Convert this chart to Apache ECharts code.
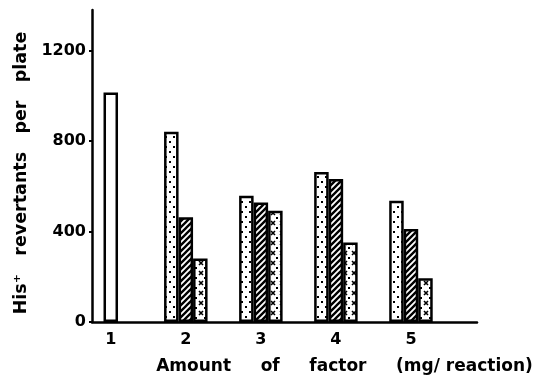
<!DOCTYPE html>
<html lang="en">
<head>
  <meta charset="UTF-8">
  <script src="https://cdn.jsdelivr.net/npm/echarts@6.0.0/dist/echarts.min.js"></script>
  <style>
    body { margin: 0; background: #fff; }
  </style>
</head>
<body>
  <div id="revertantsChart" style="width: 554px;height:380px;"></div>

  <script type="text/javascript">
    // amount of factor (mg / reaction)
    var amountTicks = [1, 2, 3, 4, 5];
    var controlAmount = [1];
    var controlValues = [1015];
    var treatedAmounts = [2, 3, 4, 5];
    var dottedValues = [841, 558, 664, 536];
    var hatchedValues = [463, 529, 632, 411];
    var crossedValues = [281, 492, 352, 193];
    var yTicks = [0, 400, 800, 1200];

    var font = '"DejaVu Sans", sans-serif';

    function makePattern(w, h, draw) {
      const c = document.createElement('canvas');
      c.width = w;
      c.height = h;
      const ctx = c.getContext('2d');
      ctx.fillStyle = '#fff';
      ctx.fillRect(0, 0, w, h);
      ctx.fillStyle = '#000';
      ctx.strokeStyle = '#000';
      draw(ctx);
      return { image: c, repeat: 'repeat' };
    }

    const dotPattern = makePattern(8, 10, ctx => {
      ctx.fillRect(1, 1, 2, 2);
      ctx.fillRect(5, 6, 2, 2);
    });

    const hatchPattern = makePattern(6, 6, ctx => {
      ctx.lineWidth = 2.4;
      ctx.beginPath();
      ctx.moveTo(-1, 7); ctx.lineTo(7, -1);
      ctx.moveTo(-4, 4); ctx.lineTo(4, -4);
      ctx.moveTo(2, 10); ctx.lineTo(10, 2);
      ctx.stroke();
    });

    const crossPattern = makePattern(9, 10, ctx => {
      ctx.lineWidth = 1.6;
      ctx.beginPath();
      ctx.moveTo(1, 1); ctx.lineTo(5, 5);
      ctx.moveTo(5, 1); ctx.lineTo(1, 5);
      ctx.stroke();
      ctx.fillRect(6, 7, 2, 2);
    });

    function pairs(xs, ys) {
      return xs.map((x, i) => [x, ys[i]]);
    }

    function barStyle(fill) {
      return { color: fill, borderColor: '#000', borderWidth: 2.5 };
    }

    const chart = echarts.init(document.getElementById('revertantsChart'));

    let option = {
      backgroundColor: '#fff',
      animation: false,
      grid: { left: 92, right: 77, top: 10, bottom: 58 },
      xAxis: {
        type: 'value',
        min: 0.75,
        max: 5.88,
        name: 'Amount     of     factor     (mg/ reaction)',
        nameLocation: 'middle',
        nameGap: 36,
        nameTextStyle: {
          color: '#000', fontFamily: font, fontWeight: 'bold', fontSize: 17,
          padding: [0, 0, 0, 120]
        },
        axisLine: { lineStyle: { color: '#000', width: 2.5 } },
        axisTick: { show: false },
        splitLine: { show: false },
        axisLabel: {
          customValues: amountTicks,
          color: '#000', fontFamily: font, fontWeight: 'bold', fontSize: 16,
          margin: 10
        }
      },
      yAxis: {
        type: 'value',
        min: 0,
        max: 1380,
        name: 'His\u207A   revertants   per   plate',
        nameLocation: 'middle',
        nameGap: 59,
        nameTextStyle: {
          color: '#000', fontFamily: font, fontWeight: 'bold', fontSize: 17.5,
          padding: [0, 14, 0, 0]
        },
        axisLine: { show: true, lineStyle: { color: '#000', width: 2.5 } },
        axisTick: { show: true, customValues: yTicks, length: 3, lineStyle: { color: '#000', width: 2 } },
        splitLine: { show: false },
        axisLabel: {
          customValues: yTicks,
          formatter: v => String(v),
          color: '#000', fontFamily: font, fontWeight: 'bold', fontSize: 16,
          margin: 6
        }
      },
      series: [
        {
          name: 'dotted',
          type: 'bar',
          barWidth: 14.5,
          barGap: 0,
          data: pairs(treatedAmounts, dottedValues),
          itemStyle: barStyle(dotPattern)
        },
        {
          name: 'hatched',
          type: 'bar',
          stack: 'middle',
          barWidth: 14.5,
          data: pairs(treatedAmounts, hatchedValues),
          itemStyle: barStyle(hatchPattern)
        },
        {
          name: 'control',
          type: 'bar',
          stack: 'middle',
          barWidth: 14.5,
          data: pairs(controlAmount, controlValues),
          itemStyle: barStyle('#fff')
        },
        {
          name: 'crossed',
          type: 'bar',
          barWidth: 14.5,
          data: pairs(treatedAmounts, crossedValues),
          itemStyle: barStyle(crossPattern)
        }
      ]
    };

    chart.setOption(option);
  </script>
</body>
</html>
